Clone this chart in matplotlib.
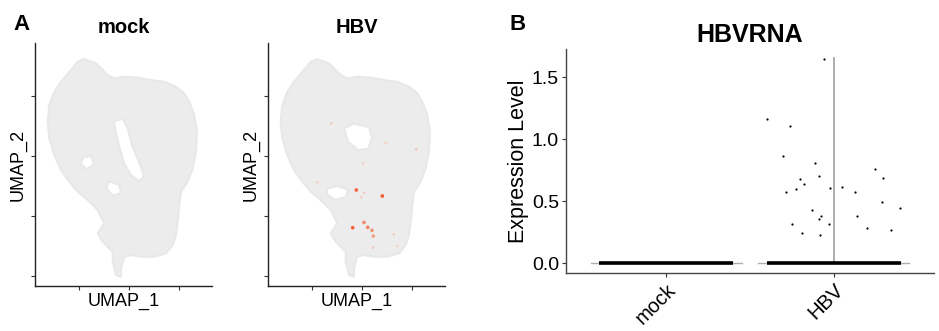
import numpy as np
import matplotlib
matplotlib.use("Agg")
import matplotlib.pyplot as plt
from matplotlib.path import Path
from matplotlib.patches import PathPatch
from matplotlib.colors import LinearSegmentedColormap

plt.rcParams['font.family'] = ['Liberation Sans', 'DejaVu Sans']

# UMAP cloud outline (UMAP units), shared by both panels
cloud_x = [-4.47, -3.30, -2.63, -2.13, -1.47, -0.47, 0.87, 2.20, 3.53, 4.70, 5.53, 6.03,
           6.53, 6.80, 6.70, 6.37, 5.87, 5.20, 5.03, 4.87, 4.70, 4.37, 3.70, 2.53, 1.20,
           0.20, -0.47, -0.80, -0.80, -1.30, -1.63, -1.63, -2.63, -3.13, -2.47, -3.13,
           -4.13, -5.13, -5.97, -6.80, -7.47, -7.97, -8.13, -7.97, -7.47, -6.80, -5.80, -5.13]
cloud_y = [13.08, 12.72, 12.17, 11.75, 11.47, 11.61, 11.53, 11.33, 11.19, 10.78, 10.22, 9.53,
           8.42, 7.03, 5.36, 3.97, 2.86, 2.03, 0.92, -0.47, -1.58, -2.42, -3.11, -3.39, -3.39,
           -3.25, -3.39, -4.36, -5.06, -4.92, -3.81, -2.97, -2.14, -1.44, -0.61, 0.50,
           1.33, 2.03, 2.86, 3.83, 5.08, 6.47, 7.86, 9.25, 10.36, 11.19, 12.17, 12.86]

# empty regions inside the cloud
mock_holes = [
    ([-1.5, -0.6, -0.1, 0.3, 1.1, 1.5, 1.0, 0.2, -0.5, -0.9, -1.3],
     [7.9, 8.1, 7.2, 5.9, 4.3, 3.3, 2.9, 3.4, 4.4, 5.6, 6.8]),
    ([-2.0, -1.0, -0.8, -1.6, -2.3], [2.9, 2.6, 1.9, 1.7, 2.3]),
    ([-4.6, -3.8, -3.5, -4.2, -4.8], [4.9, 5.0, 4.3, 3.9, 4.3]),
]
hbv_holes = [
    ([-1.8, -0.8, 0.7, 1.0, 0.6, -0.4, -1.4], [7.3, 7.7, 7.4, 6.5, 5.6, 5.5, 6.2]),
    ([-3.5, -2.5, -1.4, -1.6, -2.7, -3.5], [2.3, 2.5, 2.2, 1.6, 1.35, 1.8]),
]

# HBV-expressing cells in the HBV UMAP panel
pos_x = [-3.07, 2.37, 5.43, 0.10, -4.47, 0.23, -0.07, 3.17, 3.53, 1.10,
         -0.57, 2.03, -0.93, 0.20, 0.57, 1.00, 1.13]
pos_y = [7.72, 6.08, 5.56, 4.39, 2.81, 1.94, 1.56, -1.53, -2.50, -2.64,
         2.17, 1.67, -0.97, -0.53, -0.94, -1.19, -1.67]
pos_expr = [0.3, 0.25, 0.4, 0.25, 0.3, 0.3, 0.25, 0.3, 0.25, 0.3,
            1.1, 1.6, 1.15, 0.8, 0.85, 0.75, 0.6]

# violin panel
groups = ['mock', 'HBV']
violin_max = [0.0, 1.65]
hbv_x = [1.604, 1.737, 1.697, 1.890, 1.717, 1.797, 1.821, 1.777, 1.910, 1.976, 2.052, 2.125,
         2.245, 2.295, 2.291, 2.398, 1.871, 1.926, 1.912, 1.753, 1.970, 2.139, 2.199, 2.345,
         1.813, 1.920, 1.940]
hbv_y = [1.161, 1.108, 0.860, 0.806, 0.570, 0.680, 0.640, 0.599, 0.699, 0.605, 0.610, 0.570,
         0.758, 0.683, 0.492, 0.441, 0.430, 0.376, 0.358, 0.317, 0.315, 0.382, 0.282, 0.266,
         0.239, 0.223, 1.645]

W, H = 939, 331
fig = plt.figure(figsize=(W / 100, H / 100), dpi=100)


def ring(xs, ys, ccw=True):
    v = np.column_stack([xs, ys])
    area = 0.5 * np.sum(v[:, 0] * np.roll(v[:, 1], -1) - np.roll(v[:, 0], -1) * v[:, 1])
    if (area > 0) != ccw:
        v = v[::-1]
    return v


def cloud_path(holes):
    verts, codes = [], []
    rings = [ring(cloud_x, cloud_y, True)] + [ring(hx, hy, False) for hx, hy in holes]
    for r in rings:
        verts += list(r) + [r[0]]
        codes += [Path.MOVETO] + [Path.LINETO] * (len(r) - 1) + [Path.CLOSEPOLY]
    return Path(verts, codes)


def umap_axes(left, title, holes):
    ax = fig.add_axes([left / W, (H - 286) / H, 177 / W, 243 / H])
    ax.add_patch(PathPatch(cloud_path(holes), facecolor='#ececec', edgecolor='#e8e8e8',
                           lw=1.5, joinstyle='round'))
    ax.set_xlim(-9.4, 8.3)
    ax.set_ylim(-5.83, 14.42)
    ax.set_xticks([-5, 0, 5])
    ax.set_yticks([-5, 0, 5, 10])
    ax.set_xticklabels([])
    ax.set_yticklabels([])
    for s in ['top', 'right']:
        ax.spines[s].set_visible(False)
    for s in ['left', 'bottom']:
        ax.spines[s].set_color('#222222')
        ax.spines[s].set_linewidth(1.0)
    ax.tick_params(length=3, width=0.8, color='#333333')
    ax.set_xlabel('UMAP_1', fontsize=13)
    ax.xaxis.set_label_coords(0.5, -0.03)
    ax.set_ylabel('UMAP_2', fontsize=13, va='center')
    ax.yaxis.set_label_coords(-0.096, 0.5)
    ax.set_title(title, fontsize=14.5, fontweight='bold', pad=7)
    return ax


umap_axes(35, 'mock', mock_holes)
ax2 = umap_axes(268, 'HBV', hbv_holes)
cmap = LinearSegmentedColormap.from_list('gr', ['#f2d6cc', '#f4592f'])
order = np.argsort(pos_expr)
ax2.scatter(np.array(pos_x)[order], np.array(pos_y)[order],
            c=np.array(pos_expr)[order], cmap=cmap, vmin=0.2, vmax=1.2,
            s=[7 if e > 0.5 else 3.5 for e in np.array(pos_expr)[order]], linewidths=0, zorder=3)

# violin panel
axb = fig.add_axes([566 / W, (H - 273) / H, 368 / W, 224 / H])
for i, g in enumerate(groups):
    c = i + 1
    axb.plot([c - 0.45, c + 0.45], [0, 0], color='#b0b0b0', lw=1.0, zorder=1)
    if violin_max[i] > 0:
        axb.plot([c, c], [0, violin_max[i]], color='#a8a8a8', lw=1.3, zorder=1)
    axb.hlines(0, c - 0.4, c + 0.4, color='black', lw=2.6, zorder=2)
axb.scatter(hbv_x, hbv_y, s=2.5, color='black', linewidths=0, zorder=3)
axb.set_xlim(0.4, 2.6)
axb.set_ylim(-0.08, 1.726)
axb.set_xticks([1, 2])
axb.set_xticklabels(groups, rotation=45, ha='right', rotation_mode='anchor', fontsize=14.5)
axb.set_yticks([0, 0.5, 1.0, 1.5])
axb.set_yticklabels(['0.0', '0.5', '1.0', '1.5'], fontsize=14)
for s in ['top', 'right']:
    axb.spines[s].set_visible(False)
for s in ['left', 'bottom']:
    axb.spines[s].set_color('#444444')
    axb.spines[s].set_linewidth(1.0)
axb.tick_params(length=3, width=0.8, color='#333333', pad=2)
axb.set_ylabel('Expression Level', fontsize=15.5, va='center')
axb.yaxis.set_label_coords(-0.13, 0.5)
axb.set_title('HBVRNA', fontsize=18, fontweight='bold', pad=5)

fig.text(22 / W, 1 - 25 / H, 'A', fontsize=16, fontweight='bold', ha='center', va='center')
fig.text(518 / W, 1 - 25 / H, 'B', fontsize=16, fontweight='bold', ha='center', va='center')

fig.savefig('out.png', dpi=100, facecolor='white')
